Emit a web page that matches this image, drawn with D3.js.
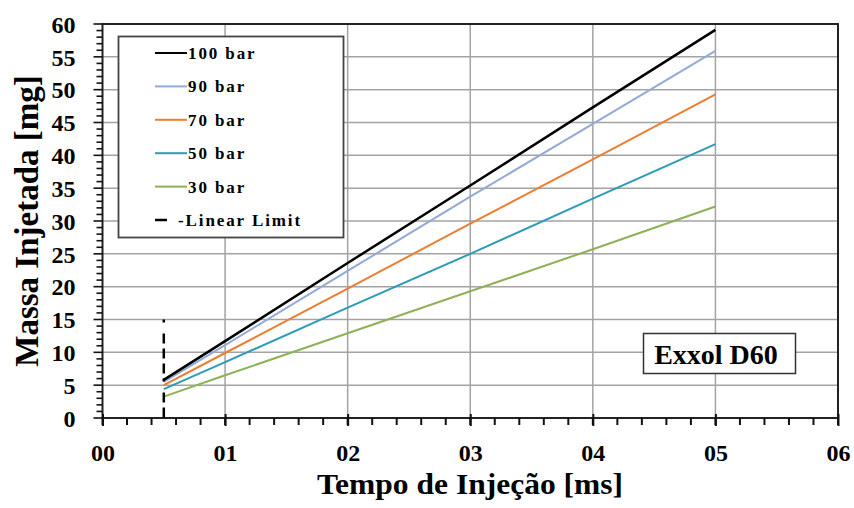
<!DOCTYPE html>
<html>
<head>
<meta charset="utf-8">
<script src="https://cdn.jsdelivr.net/npm/d3@7"></script>
<style>
  html, body { margin: 0; padding: 0; background: #fff; }
  svg text { font-family: "Liberation Serif", "Times New Roman", serif; font-weight: bold; fill: #000; }
</style>
</head>
<body>
<svg id="chart" width="854" height="508"></svg>
<script>
// Injection time (ms) at which each pressure curve is sampled
const injectionTimes = [0.5, 1, 2, 3, 4, 5];

// Injected mass (mg) per injection pressure
const mass100bar = [5.8, 11.7, 23.6, 35.4, 47.3, 59.1];
const mass90bar  = [5.5, 11.1, 22.4, 33.7, 44.8, 55.9];
const mass70bar  = [5.0, 9.9, 19.7, 29.6, 39.4, 49.3];
const mass50bar  = [4.4, 8.5, 16.8, 25.0, 33.4, 41.7];
const mass30bar  = [3.25, 6.5, 12.9, 19.3, 25.7, 32.2];

const seriesNames = ["100 bar", "90 bar", "70 bar", "50 bar", "30 bar"];
const seriesColors = ["#000000", "#93a9d6", "#ed7d31", "#2d9bb8", "#8db255"];

// Linear limit marker
const linearLimitTime = 0.5;
const linearLimitMass = [0, 15];

// Axis ticks
const xTicks = [0, 1, 2, 3, 4, 5, 6];
const xTickLabels = ["00", "01", "02", "03", "04", "05", "06"];
const yTicks = [0, 5, 10, 15, 20, 25, 30, 35, 40, 45, 50, 55, 60];

const seriesValues = [mass100bar, mass90bar, mass70bar, mass50bar, mass30bar];
const series = seriesNames.map((name, i) => ({
  name,
  color: seriesColors[i],
  points: injectionTimes.map((t, j) => ({ t, m: seriesValues[i][j] }))
}));

const svg = d3.select("#chart");
const x = d3.scaleLinear().domain([0, 6]).range([102.5, 838]);
const y = d3.scaleLinear().domain([0, 60]).range([418, 24]);

// Grid
const grid = svg.append("g").attr("stroke", "#a3a3a3").attr("stroke-width", 1.5);
grid.selectAll("line.v").data(xTicks.slice(1, -1)).join("line")
  .attr("x1", d => x(d)).attr("x2", d => x(d))
  .attr("y1", y(0)).attr("y2", y(60));
grid.selectAll("line.h").data(yTicks.slice(1, -1)).join("line")
  .attr("x1", x(0)).attr("x2", x(6))
  .attr("y1", d => y(d)).attr("y2", d => y(d));

// Plot frame
svg.append("rect")
  .attr("x", x(0)).attr("y", y(60))
  .attr("width", x(6) - x(0)).attr("height", y(0) - y(60))
  .attr("fill", "none").attr("stroke", "#222").attr("stroke-width", 2);

// Minor ticks
const xMinor = d3.range(0, 6.001, 0.2);
svg.append("g").selectAll("line").data(xMinor).join("line")
  .attr("x1", d => x(d)).attr("x2", d => x(d))
  .attr("y1", y(0)).attr("y2", y(0) + 7)
  .attr("stroke", "#111").attr("stroke-width", 2);
const yMinor = d3.range(0, 60.001, 1);
svg.append("g").selectAll("line").data(yMinor).join("line")
  .attr("x1", d => x(0) - (d % 5 === 0 ? 9 : 6)).attr("x2", x(0))
  .attr("y1", d => y(d)).attr("y2", d => y(d))
  .attr("stroke", "#111").attr("stroke-width", 1.6);

// X axis: major ticks cross the axis line
const xAxis = d3.axisBottom(x).tickValues(xTicks)
  .tickFormat((d, i) => xTickLabels[i]).tickSize(8).tickPadding(0);
const gx = svg.append("g").attr("transform", `translate(0,${y(0)})`).call(xAxis);
gx.select(".domain").remove();
gx.selectAll(".tick line").attr("y1", -4).attr("stroke", "#111").attr("stroke-width", 2);
gx.selectAll(".tick text")
  .attr("y", 43).attr("dy", null)
  .attr("font-size", 24);

// Y axis labels
const yAxis = d3.axisLeft(y).tickValues(yTicks).tickSize(0).tickPadding(27);
const gy = svg.append("g").attr("transform", `translate(${x(0)},0)`).call(yAxis);
gy.select(".domain").remove();
gy.selectAll(".tick text").attr("font-size", 24).attr("dy", "0.34em");

// Axis titles
svg.append("text")
  .attr("x", 470).attr("y", 494)
  .attr("text-anchor", "middle").attr("font-size", 30)
  .attr("textLength", 306).attr("lengthAdjust", "spacingAndGlyphs")
  .text("Tempo de Injeção [ms]");
svg.append("text")
  .attr("transform", "translate(38,221) rotate(-90)")
  .attr("text-anchor", "middle").attr("font-size", 33)
  .text("Massa Injetada [mg]");

// Series lines
const line = d3.line().x(d => x(d.t)).y(d => y(d.m));
svg.append("g").selectAll("path").data(series.slice().reverse()).join("path")
  .attr("d", d => line(d.points))
  .attr("fill", "none")
  .attr("stroke", d => d.color)
  .attr("stroke-width", d => d.name === "100 bar" ? 2.5 : 2);

// Linear limit
svg.append("line")
  .attr("x1", x(linearLimitTime)).attr("x2", x(linearLimitTime))
  .attr("y1", y(linearLimitMass[1])).attr("y2", y(linearLimitMass[0]))
  .attr("stroke", "#000").attr("stroke-width", 2.5)
  .attr("stroke-dasharray", "3,11,10,5,10,5,10,5");

// Legend
const legend = svg.append("g");
legend.append("rect")
  .attr("x", 118.5).attr("y", 36.5).attr("width", 225).attr("height", 201)
  .attr("fill", "#fff").attr("stroke", "#444").attr("stroke-width", 1.8);
const legendItems = series.map(s => ({ name: s.name, color: s.color, dash: false }))
  .concat([{ name: "-Linear Limit", color: "#000", dash: true }]);
const rowY = d3.scaleLinear().domain([0, 5]).range([53, 220]);
const item = legend.selectAll("g.item").data(legendItems).join("g")
  .attr("transform", (d, i) => `translate(0,${rowY(i)})`);
item.append("line")
  .attr("x1", 155).attr("x2", d => d.dash ? 167 : 187).attr("y1", 0).attr("y2", 0)
  .attr("stroke", d => d.color)
  .attr("stroke-width", d => d.dash ? 2.5 : 2);
item.append("text")
  .attr("x", d => d.dash ? 178 : 188).attr("y", 6)
  .attr("font-size", 17).attr("letter-spacing", 1.9)
  .text(d => d.name);

// Fluid label
const tag = svg.append("g");
tag.append("rect")
  .attr("x", 643.5).attr("y", 333.5).attr("width", 152).attr("height", 40)
  .attr("fill", "#fff").attr("stroke", "#333").attr("stroke-width", 1.5);
tag.append("text")
  .attr("x", 716).attr("y", 364).attr("text-anchor", "middle")
  .attr("font-size", 28).text("Exxol D60");
</script>
</body>
</html>
